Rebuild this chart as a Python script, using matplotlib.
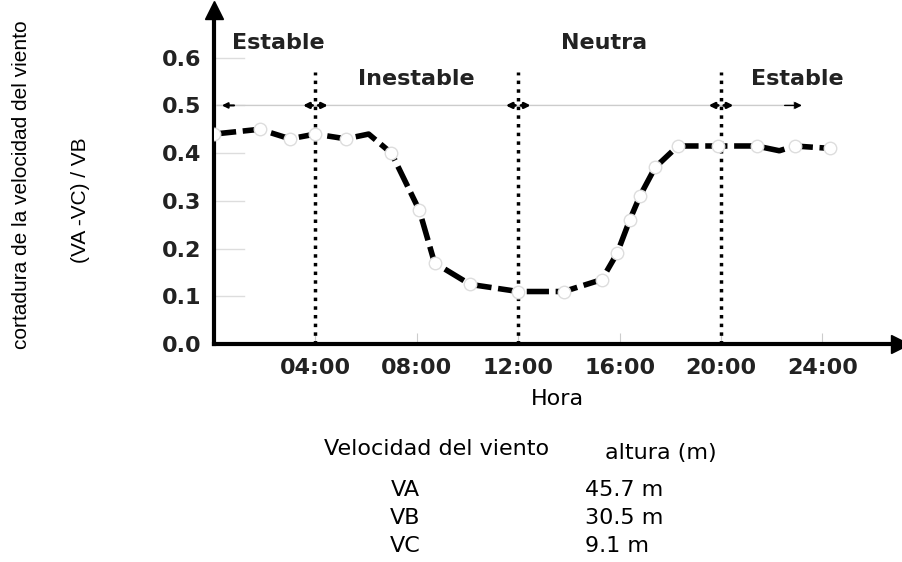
import matplotlib
matplotlib.use("Agg")
import matplotlib.pyplot as plt

# Data (hour of day, shear ratio)
hours = [0.0, 1.8, 3.0, 4.0, 5.2, 6.1, 7.0, 8.1, 8.7, 10.1, 12.0, 13.8, 15.3, 15.9,
         16.4, 16.8, 17.4, 18.3, 19.9, 21.4, 22.3, 22.9, 24.3]
shear = [0.44, 0.45, 0.43, 0.44, 0.43, 0.44, 0.40, 0.28, 0.17, 0.125, 0.11, 0.11, 0.135,
         0.19, 0.26, 0.31, 0.37, 0.415, 0.415, 0.415, 0.405, 0.415, 0.41]
marker_idx = [0, 1, 2, 3, 4, 6, 7, 8, 9, 10, 11, 12, 13, 14, 15, 16, 17, 18, 19, 21, 22]

tick_hours = [4, 8, 12, 16, 20, 24]
tick_labels = ["04:00", "08:00", "12:00", "16:00", "20:00", "24:00"]
y_ticks = [0.0, 0.1, 0.2, 0.3, 0.4, 0.5, 0.6]
boundaries = [4, 12, 20]

regions = [("Estable", 0.7, 0.63, "left"), ("Inestable", 8.0, 0.555, "center"),
           ("Neutra", 15.4, 0.63, "center"), ("Estable", 21.2, 0.555, "left")]

heights_names = ["VA", "VB", "VC"]
heights_vals = ["45.7 m", "30.5 m", "9.1 m"]

plt.rcParams["font.family"] = ["DejaVu Sans"]

fig = plt.figure(figsize=(9.03, 5.62), dpi=100)
ax = fig.add_axes([214 / 903, 1 - 344 / 562, 686 / 903, 334 / 562])
ax.set_xlim(0, 27.06)
ax.set_ylim(0, 0.70)

for s in ["top", "right"]:
    ax.spines[s].set_visible(False)
for s in ["left", "bottom"]:
    ax.spines[s].set_linewidth(3)
ax.plot(1, 0, ">k", ms=13, transform=ax.transAxes, clip_on=False)
ax.plot(0, 1, "^k", ms=13, transform=ax.transAxes, clip_on=False)

# faint short grid ticks
for yv in y_ticks[1:]:
    ax.plot([0, 1.2], [yv, yv], color="#dddddd", lw=1, zorder=0)

# region band at 0.5
ax.annotate("", xy=(23.3, 0.5), xytext=(0, 0.5),
            arrowprops=dict(arrowstyle="-|>", color="#cccccc", lw=1, mutation_scale=12))
ax.annotate("", xy=(23.3, 0.5), xytext=(22.4, 0.5),
            arrowprops=dict(arrowstyle="-|>", color="black", lw=1, mutation_scale=10))
ax.annotate("", xy=(0.2, 0.5), xytext=(0.9, 0.5),
            arrowprops=dict(arrowstyle="-|>", color="black", lw=1.5, mutation_scale=8))
for b in boundaries:
    ax.annotate("", xy=(b - 0.6, 0.5), xytext=(b, 0.5),
                arrowprops=dict(arrowstyle="-|>", color="black", lw=2, mutation_scale=8))
    ax.annotate("", xy=(b + 0.6, 0.5), xytext=(b, 0.5),
                arrowprops=dict(arrowstyle="-|>", color="black", lw=2, mutation_scale=8))
    ax.plot([b, b], [0, 0.57], color="black", lw=2.5, ls=(0, (1, 1.5)))

for name, x, y, ha in regions:
    ax.text(x, y, name, ha=ha, va="center", fontsize=16, fontweight="bold", color="#222222")

ax.plot(hours, shear, color="black", lw=4, ls=(0, (4, 1.2)),
        marker="o", ms=9, mfc="white", mec="#dddddd", mew=1, markevery=marker_idx, zorder=3)

ax.set_xticks(tick_hours)
ax.set_xticklabels(tick_labels)
ax.set_yticks(y_ticks)
ax.set_yticklabels([f"{v:.1f}" for v in y_ticks])
ax.tick_params(axis="x", direction="in", length=8, color="#cccccc", labelsize=16, pad=10)
ax.tick_params(axis="y", length=0, labelsize=16, pad=9)
for lab in ax.get_xticklabels() + ax.get_yticklabels():
    lab.set_fontweight("bold")
    lab.set_color("#222222")

ax.set_xlabel("Hora", fontsize=16, labelpad=8)

fig.text(22 / 903, 1 - 185 / 562, "cortadura de la velocidad del viento", rotation=90,
         ha="center", va="center", fontsize=15,
         family=["Liberation Sans Narrow", "Liberation Sans"])
fig.text(80 / 903, 1 - 200 / 562, "(VA -VC) / VB", rotation=90,
         ha="center", va="center", fontsize=15,
         family=["Liberation Sans Narrow", "Liberation Sans"])

fig.text(437 / 903, 1 - 449 / 562, "Velocidad del viento", ha="center", va="center", fontsize=16)
fig.text(661 / 903, 1 - 453 / 562, "altura (m)", ha="center", va="center", fontsize=16)
for i, (n, v) in enumerate(zip(heights_names, heights_vals)):
    yy = 1 - (490 + i * 28) / 562
    fig.text(405 / 903, yy, n, ha="center", va="center", fontsize=16)
    fig.text(585 / 903, yy, v, ha="left", va="center", fontsize=16)

fig.savefig("out.png", dpi=100)
